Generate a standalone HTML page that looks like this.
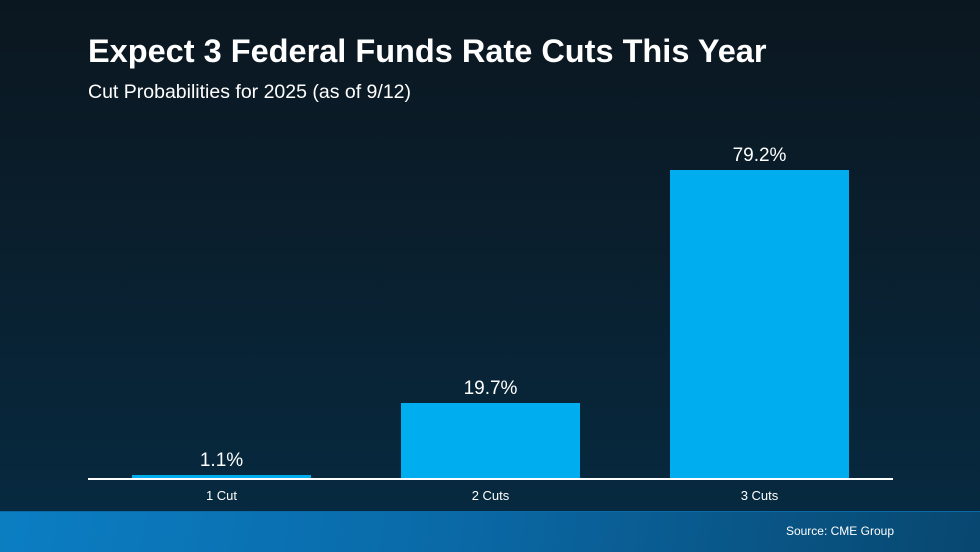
<!DOCTYPE html>
<html><head><style>
body{margin:0;width:980px;height:551px;overflow:hidden;font-family:"Liberation Sans",sans-serif;}
.bg{position:absolute;left:0;top:0;width:980px;height:551px;background:linear-gradient(180deg,#0b1720 0%,#0a1e2c 40%,#062b42 100%);}
.t{position:absolute;left:88px;top:33px;color:#fff;font-size:32.5px;font-weight:bold;}
.s{position:absolute;left:88px;top:81px;color:#fff;font-size:19.5px;}
.bar{position:absolute;background:#00adee;width:179px;}
.v{position:absolute;color:#fff;font-size:19px;width:179px;text-align:center;}
.c{position:absolute;color:#fff;font-size:13px;width:179px;text-align:center;top:488px;}
.axis{position:absolute;left:88px;top:478px;width:805px;height:2px;background:#fff;}
.foot{position:absolute;left:0;top:511px;width:980px;height:40px;background:linear-gradient(100deg,#0b7ec3 0%,#0a6aa8 45%,#08476f 100%);border-top:1px solid #0a6aa8;}
.src{position:absolute;right:86px;top:524px;color:#fff;font-size:12px;}
</style></head><body>
<div class="bg"></div>
<div class="t">Expect 3 Federal Funds Rate Cuts This Year</div>
<div class="s">Cut Probabilities for 2025 (as of 9/12)</div>
<div class="bar" style="left:132px;top:475px;height:4px"></div>
<div class="bar" style="left:401px;top:403px;height:76px"></div>
<div class="bar" style="left:670px;top:170px;height:309px"></div>
<div class="v" style="left:132px;top:450px">1.1%</div>
<div class="v" style="left:401px;top:378px">19.7%</div>
<div class="v" style="left:670px;top:145px">79.2%</div>
<div class="axis"></div>
<div class="c" style="left:132px">1 Cut</div>
<div class="c" style="left:401px">2 Cuts</div>
<div class="c" style="left:670px">3 Cuts</div>
<div class="foot"></div>
<div class="src">Source: CME Group</div>
</body></html>
